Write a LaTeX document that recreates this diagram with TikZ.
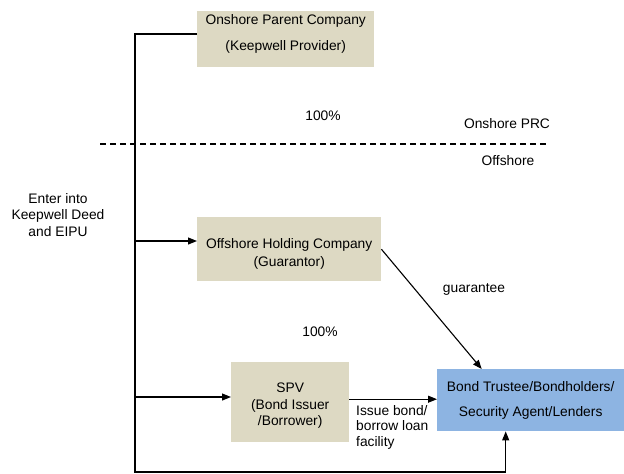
\documentclass[tikz,border=0pt]{standalone}
\usepackage{fontspec}
\setmainfont{Liberation Sans}
\usetikzlibrary{arrows.meta,positioning}
\definecolor{beige}{HTML}{DDD9C3}
\definecolor{bondblue}{HTML}{8DB4E2}

\begin{document}
\begin{tikzpicture}[
    x=1pt,y=-1pt,
    font=\fontsize{13.8}{16.5}\selectfont,
    box/.style={fill=beige,align=center,inner sep=0pt,anchor=north west},
    arr/.style={-{Triangle[length=9pt,width=7pt]},line width=1.1pt},
    lbl/.style={inner sep=0pt}
  ]
    \useasboundingbox (0,0) rectangle (624,474);
    \node[box,minimum width=177pt,minimum height=56pt] (parent) at (197,11)
      {Onshore Parent Company\\[9.5pt](Keepwell Provider)\\[-4pt]\mbox{}};
    \node[box,minimum width=184pt,minimum height=64pt] (hold) at (197,217)
      {\mbox{}\\[3.5pt]Offshore Holding Company\\[1.5pt](Guarantor)};
    \node[box,minimum width=118pt,minimum height=80pt] (spv) at (231,362)
      {\mbox{}\\[0pt]SPV\\(Bond Issuer\\/Borrower)};
    \node[box,fill=bondblue,minimum width=187pt,minimum height=62pt] (bond) at (437,369)
      {Bond Trustee/Bondholders/\\[8.5pt]Security Agent/Lenders};
    \node[lbl] (own1) at (323,116) {100\%};
    \node[lbl] (own2) at (320,332) {100\%};
    \node[lbl] (prc) at (507,124) {Onshore PRC};
    \node[lbl] (off) at (508,161) {Offshore};
    \node[lbl] (guar) at (474,289) {guarantee};
    \node[lbl,align=center] (enter) at (58,215) {Enter into\\Keepwell Deed\\and EIPU};
    \node[lbl,align=left,anchor=west] (issue) at (356,427)
      {Issue bond/\\[-1pt]borrow loan\\[-1pt]facility};
    % onshore / offshore divide
    \coordinate (divL) at (100,144);
    \coordinate (divR) at (548,144);
    \draw[line width=1.1pt,dash pattern=on 6pt off 4pt] (divL) -- (divR);
    % keepwell bus
    \coordinate (bustop) at (135,34);
    \coordinate (busbot) at (135,472);
    \coordinate (tap1) at (135,241);
    \coordinate (tap2) at (135,397);
    \draw[arr] (parent.west |- bustop) -- (bustop) -- (busbot) -| ([xshift=-25pt]bond.south);
    \draw[arr] (tap1) -- (tap1 -| hold.west);
    \draw[arr] (tap2) -- (tap2 -| spv.west);
    \draw[arr] ([yshift=3pt]spv.east) -- ([yshift=3pt]spv.east -| bond.west);
    \draw[arr] (hold.east) -- ([xshift=-49pt]bond.north);
  \end{tikzpicture}
\end{document}
